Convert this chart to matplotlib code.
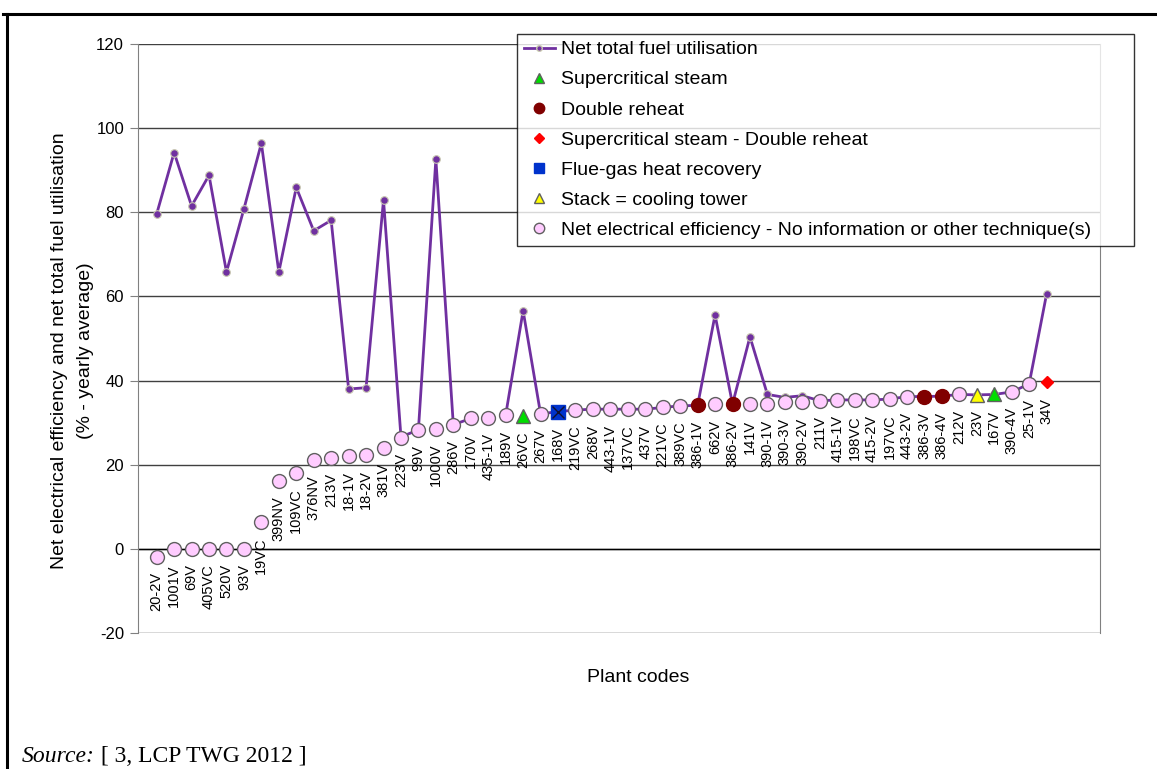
import numpy as np
import matplotlib.pyplot as plt
from matplotlib.lines import Line2D

plt.rcParams['font.family'] = ['Liberation Sans', 'DejaVu Sans']
plt.rcParams['axes.unicode_minus'] = False

# plant codes in plotting order
plants = ['20-2V', '1001V', '69V', '405VC', '520V', '93V', '19VC', '399NV',
          '109VC', '376NV', '213V', '18-1V', '18-2V', '381V', '223V', '99V',
          '1000V', '286V', '170V', '435-1V', '189V', '26VC', '267V', '168V',
          '219VC', '268V', '443-1V', '137VC', '437V', '221VC', '389VC',
          '386-1V', '662V', '386-2V', '141V', '390-1V', '390-3V', '390-2V',
          '211V', '415-1V', '198VC', '415-2V', '197VC', '443-2V', '386-3V',
          '386-4V', '212V', '23V', '167V', '390-4V', '25-1V', '34V']

# net electrical efficiency (%)
net_elec_eff = [-1.9, 0, 0, 0, 0, 0, 6.4, 16.2, 18.1, 21.1, 21.6, 22.1, 22.3,
                24.0, 26.4, 28.3, 28.6, 29.5, 31.1, 31.1, 31.8, 31.6, 32.1,
                32.6, 33.0, 33.2, 33.2, 33.2, 33.2, 33.6, 34.0, 34.1, 34.4,
                34.4, 34.4, 34.4, 34.8, 34.9, 35.2, 35.4, 35.4, 35.4, 35.6,
                36.2, 36.2, 36.3, 36.7, 36.6, 36.7, 37.3, 39.2, 39.6]

# net total fuel utilisation (%), None = no value
net_fuel_util = [79.6, 94.2, 81.5, 88.8, 65.8, 80.8, 96.4, 65.8, 85.9, 75.6,
                 78.1, 38.0, 38.3, 82.9, 26.6, 28.3, 92.6, 29.5, 31.0, None,
                 31.8, 56.6, 32.1, 32.6, 33.0, 33.2, 33.2, 33.2, 33.2, 33.6,
                 34.0, 34.1, 55.6, 34.4, 50.4, 36.7, 36.0, 36.4, 35.2, 35.4,
                 35.4, 35.4, 35.6, 36.2, 36.2, 36.3, 36.7, 36.6, 36.7, 37.3,
                 39.2, 60.6]

# technique per plant
technique = ['other'] * 21 + ['sc'] + ['other'] + ['fg'] + ['other'] * 7 + \
    ['dr', 'other', 'dr'] + ['other'] * 10 + ['dr', 'dr', 'other', 'st', 'sc',
                                              'other', 'other', 'scdr']

styles = {
    'sc': dict(marker='^', mfc='#00DD00', ms=10, label='Supercritical steam'),
    'dr': dict(marker='o', mfc='#800000', ms=10, label='Double reheat'),
    'scdr': dict(marker='D', mfc='#FF0000', ms=6.5,
                 label='Supercritical steam - Double reheat'),
    'fg': dict(marker='s', mfc='#0033CC', ms=10, label='Flue-gas heat recovery'),
    'st': dict(marker='^', mfc='#FFFF00', ms=10, label='Stack = cooling tower'),
    'other': dict(marker='o', mfc='#FFCCFF', ms=10,
                  label='Net electrical efficiency - No information or other technique(s)'),
}
edge = {'sc': '#606060', 'dr': '#800000', 'scdr': '#FF0000', 'fg': '#0033CC',
        'st': '#606060', 'other': '#606060'}

fig = plt.figure(figsize=(11.57, 7.69), dpi=100)
ax = fig.add_axes([138 / 1157, 1 - 633 / 769, (1100 - 138) / 1157, (633 - 44) / 769])

x = np.arange(len(plants))
eff = np.array(net_elec_eff, dtype=float)
fuel = np.array([np.nan if v is None else v for v in net_fuel_util])
tech = np.array(technique)

ax.plot(x, fuel, color='#7030A0', lw=2, marker='o', ms=5.5, mfc='#7030A0',
        mec='#c8c8b0', mew=0.8, zorder=3)

for key, st in styles.items():
    m = tech == key
    ax.plot(x[m], eff[m], ls='none', marker=st['marker'], ms=st['ms'],
            mfc=st['mfc'], mec=edge[key], mew=1, zorder=4)
    if key == 'fg':
        ax.plot(x[m], eff[m], ls='none', marker='x', ms=9, mec='#101030',
                mew=1, zorder=5)

for i, (name, v) in enumerate(zip(plants, eff)):
    ax.annotate(name, (i, v), xytext=(0, -11), textcoords='offset points',
                rotation=90, ha='center', va='top', fontsize=10.5, zorder=6)

ax.set_xlim(-1.07, 54.06)
ax.set_ylim(-20, 120)
ax.set_yticks(np.arange(-20, 121, 20))
ax.tick_params(axis='y', labelsize=12, length=6, color='#808080', pad=4)
ax.set_xticks([])
ax.grid(axis='y', color='#404040', lw=1)
ax.set_axisbelow(True)
ax.axhline(0, color='black', lw=1, zorder=2)
for s in ['top', 'bottom']:
    ax.spines[s].set_visible(False)
ax.spines['left'].set_color('#808080')
ax.spines['right'].set_color('#808080')

handles = [Line2D([], [], color='#7030A0', lw=2, marker='o', ms=4,
                  mfc='#7030A0', mec='#c8c8b0', label='Net total fuel utilisation')]
for key in ['sc', 'dr', 'scdr', 'fg', 'st', 'other']:
    st = styles[key]
    ms = st['ms'] * (0.75 if key != 'scdr' else 0.8)
    handles.append(Line2D([], [], ls='none', marker=st['marker'], ms=ms,
                          mfc=st['mfc'], mec=edge[key], label=st['label']))
leg = fig.legend(handles=handles, loc='upper left', mode='expand',
                 bbox_to_anchor=(517 / 1157, 1 - 244 / 769, (1134 - 517) / 1157, 210 / 769),
                 fontsize=14, frameon=True, fancybox=False, borderaxespad=0,
                 handlelength=1.6, handletextpad=0.3, labelspacing=0.64,
                 borderpad=0.35, edgecolor='black')
leg.get_frame().set_linewidth(1)

fig.text(60 / 1157, 1 - 351 / 769,
         'Net electrical efficiency and net total fuel utilisation',
         rotation=90, ha='center', va='center', fontsize=14)
fig.text(85 / 1157, 1 - 351 / 769, '(% - yearly average)',
         rotation=90, ha='center', va='center', fontsize=14)
fig.text(638 / 1157, 1 - 677 / 769, 'Plant codes', ha='center', va='center',
         fontsize=14)

t1 = fig.text(22 / 1157, 1 - 762 / 769, 'Source:', style='italic',
              family='Liberation Serif', fontsize=17, va='baseline')
plt.annotate(' [ 3, LCP TWG 2012 ]', xy=(1, 0), xycoords=t1, va='bottom',
             family='Liberation Serif', fontsize=17, annotation_clip=False)

# page frame
fig.add_artist(Line2D([7 / 1157, 7 / 1157], [-0.01, 1 - 14 / 769],
                      color='black', lw=2.2))
fig.add_artist(Line2D([3 / 1157, 1.01], [1 - 14 / 769, 1 - 14 / 769],
                      color='black', lw=2.2))

fig.savefig('out.png', dpi=100)
